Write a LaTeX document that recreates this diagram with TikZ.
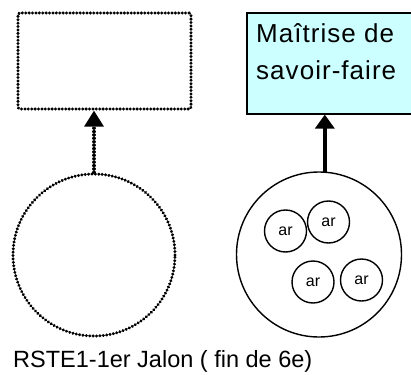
\documentclass[tikz,border=0pt]{standalone}
\usepackage{fontspec}
\setmainfont{Liberation Sans}
\newfontfamily\wideFont[LetterSpace=4]{Liberation Sans}
\usepackage{tikz}
\usetikzlibrary{arrows.meta, positioning}
\definecolor{paleCyan}{HTML}{CCFFFF}

\begin{document}
\begin{tikzpicture}[x=1pt, y=-1pt,
    dots/.style = {line width=3.2pt, dash pattern=on 0.1pt off 3.3pt, line cap=round},
    arc/.style = {circle, draw, line width=1.4pt, minimum size=42pt, inner sep=0pt, font=\fontsize{16}{16}\selectfont}]
  \useasboundingbox (0,0) rectangle (411,374);
  % left: empty milestone
  \node [dots, draw, rounded corners=2pt, minimum width=173pt, minimum height=96pt] (boxL) at (104.5,61) {};
  \node [dots, draw, circle, minimum size=162pt] (circL) at (94,255) {};
  \draw [dots, -{Triangle[length=16pt, width=19pt]}] (circL.north) -- (circL.north |- boxL.south);
  % right: skill box
  \node [draw, line width=1.2pt, fill=paleCyan, minimum width=166pt, minimum height=101pt] (boxR) at (330,63.5) {};
  \node [anchor=base west, align=left, inner sep=0pt, font=\wideFont\fontsize{26}{37}\selectfont] (skill) at (256,80) {Maîtrise de\\savoir-faire};
  \node [draw, circle, line width=1.4pt, minimum size=165pt] (circR) at (319,254.5) {};
  \foreach \n/\x/\y in {1/285.5/231, 2/328.5/222, 3/313/282, 4/361.5/280}
    \node [arc] (ar\n) at (\x,\y) {ar};
  \draw [line width=4pt, -{Triangle[length=14pt, width=19pt]}] (circR.86) -- (circR.86 |- boxR.south);
  \node [anchor=base west, inner sep=0pt, font=\fontsize{23.5}{23.5}\selectfont] (milestone) at (13,367) {RSTE1-1er Jalon ( fin de 6e)};
\end{tikzpicture}
\end{document}
